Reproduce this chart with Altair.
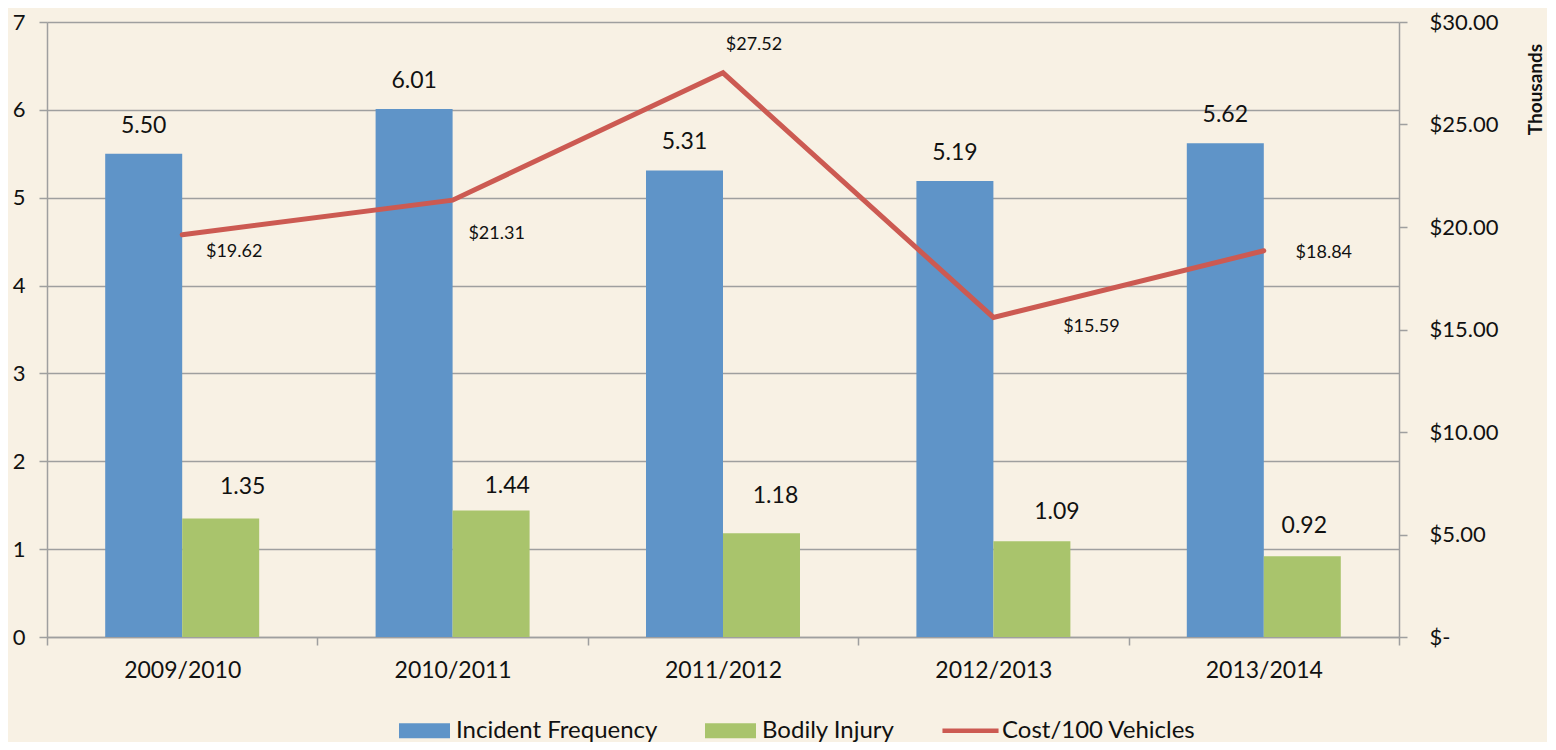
import altair as alt
import pandas as pd

# ---------------- data ----------------
CATEGORIES = ["2009/2010", "2010/2011", "2011/2012", "2012/2013", "2013/2014"]
INCIDENT_FREQ = [5.50, 6.01, 5.31, 5.19, 5.62]
BODILY_INJURY = [1.35, 1.44, 1.18, 1.09, 0.92]
COST_PER_100 = [19.62, 21.31, 27.52, 15.59, 18.84]  # in thousands of $
SERIES = ["Incident Frequency", "Bodily Injury", "Cost/100 Vehicles"]
LEFT_TICKS = [0, 1, 2, 3, 4, 5, 6, 7]
RIGHT_TICKS = [0, 5, 10, 15, 20, 25, 30]

# ---------------- style ----------------
COLORS = ["#5f94c8", "#a9c46c", "#cc5a52"]
BG = "#f8f1e4"
GRID = "#9f9f9f"
TEXT = "#111111"
FONT = "Lato"
# legend swatch shapes (rect, rect, thick line)
SHAPES = [
    "M-1,-0.294H1V0.294H-1Z",
    "M-1,-0.294H1V0.294H-1Z",
    "M-1.1,-0.09H1.1V0.09H-1.1Z",
]
# label offsets (dx, dy) in pixels
IF_LABEL_DY = -28
BI_LABEL_OFFSETS = [(22, -31), (16, -24), (14, -37), (25, -29), (2, -30)]
COST_LABEL_OFFSETS = [(52, 17), (44, 34), (31, -28), (98, 10), (60, 2)]

bar_df = pd.DataFrame({
    "category": CATEGORIES * 2,
    "series": [SERIES[0]] * len(CATEGORIES) + [SERIES[1]] * len(CATEGORIES),
    "value": INCIDENT_FREQ + BODILY_INJURY,
})
line_df = pd.DataFrame({"category": CATEGORIES, "cost": COST_PER_100})
legend_df = pd.DataFrame({"series": SERIES, "category": [CATEGORIES[0]] * 3, "value": [-1] * 3})

x_enc = alt.X(
    "category:N", sort=CATEGORIES,
    scale=alt.Scale(domain=CATEGORIES, paddingInner=0, paddingOuter=0),
    axis=alt.Axis(title=None, labelAngle=0, labelFontSize=23, labelFont=FONT, labelColor=TEXT,
                  tickBand="extent", tickSize=8, tickColor=GRID, tickWidth=1.5,
                  domainColor=GRID, domainWidth=1.5, labelPadding=14, grid=False),
)
xoff_enc = alt.XOffset("series:N", scale=alt.Scale(domain=SERIES[:2], paddingInner=0, paddingOuter=0.756))
y_left = alt.Y(
    "value:Q", scale=alt.Scale(domain=[0, 7], nice=False),
    axis=alt.Axis(title=None, values=LEFT_TICKS, format="d", grid=True, gridColor=GRID, gridWidth=1.5,
                  labelFontSize=22, labelFont=FONT, labelColor=TEXT, labelPadding=14,
                  tickSize=8, tickColor=GRID, tickWidth=1.5, domainColor=GRID, domainWidth=1.5),
)
y_right = alt.Y(
    "cost:Q", scale=alt.Scale(domain=[0, 30], nice=False),
    axis=alt.Axis(orient="right", values=RIGHT_TICKS, grid=False,
                  labelExpr="datum.value == 0 ? '$-' : '$' + format(datum.value, '.2f')",
                  labelFontSize=22, labelFont=FONT, labelColor=TEXT, labelPadding=22,
                  tickSize=8, tickColor=GRID, tickWidth=1.5, domainColor=GRID, domainWidth=1.5,
                  title="Thousands", titleFont=FONT, titleFontSize=19, titleFontWeight="bold",
                  titleColor=TEXT, titleAngle=270, titleX=136, titleY=67,
                  titleAlign="center", titleBaseline="middle"),
)
color_scale = alt.Scale(domain=SERIES, range=COLORS)
legend_def = alt.Legend(
    title=None, orient="none", legendX=352, legendY=683, direction="horizontal",
    labelFontSize=24, labelFont=FONT, labelColor=TEXT, labelLimit=400,
    symbolSize=2601, symbolStrokeWidth=0,
    columnPadding=47, labelOffset=6, padding=0, symbolOpacity=1,
)

bars = alt.Chart(bar_df).mark_bar().encode(
    x=x_enc, xOffset=xoff_enc, y=y_left,
    color=alt.Color("series:N", scale=color_scale, legend=legend_def),
)
if_labels = alt.Chart(bar_df).transform_filter(alt.datum.series == SERIES[0]).mark_text(
    dy=IF_LABEL_DY, fontSize=23, font=FONT, color=TEXT, baseline="middle"
).encode(x=x_enc, xOffset=xoff_enc, y=y_left, text=alt.Text("value:Q", format=".2f"))

bi_layers = []
for cat, (dx, dy) in zip(CATEGORIES, BI_LABEL_OFFSETS):
    bi_layers.append(
        alt.Chart(bar_df).transform_filter(
            (alt.datum.series == SERIES[1]) & (alt.datum.category == cat)
        ).mark_text(dx=dx, dy=dy, fontSize=23, font=FONT, color=TEXT, baseline="middle").encode(
            x=x_enc, xOffset=xoff_enc, y=y_left, text=alt.Text("value:Q", format=".2f"))
    )

legend_pts = alt.Chart(legend_df).mark_point(filled=True, clip=True).encode(
    x=x_enc, y=y_left,
    color=alt.Color("series:N", scale=color_scale, legend=legend_def),
    shape=alt.Shape("series:N", scale=alt.Scale(domain=SERIES, range=SHAPES), legend=legend_def),
)

left_layer = alt.layer(bars, if_labels, *bi_layers, legend_pts)

line = alt.Chart(line_df).mark_line(color=COLORS[2], strokeWidth=5, strokeCap="round", strokeJoin="miter").encode(
    x=x_enc, y=y_right)
cost_layers = []
for cat, (dx, dy) in zip(CATEGORIES, COST_LABEL_OFFSETS):
    cost_layers.append(
        alt.Chart(line_df).transform_filter(alt.datum.category == cat).transform_calculate(
            label="'$' + format(datum.cost, '.2f')"
        ).mark_text(dx=dx, dy=dy, fontSize=18, font=FONT, color=TEXT, baseline="middle").encode(
            x=x_enc, y=y_right, text="label:N")
    )
right_layer = alt.layer(line, *cost_layers)

chart = alt.layer(left_layer, right_layer).resolve_scale(y="independent").properties(
    width=1352, height=615,
    autosize=alt.AutoSizeParams(type="none"),
    padding={"left": 39, "top": 14, "right": 148, "bottom": 105},
).configure(background=BG).configure_view(stroke=None)

chart.save("out.html", embed_options={"renderer": "svg", "actions": False})
